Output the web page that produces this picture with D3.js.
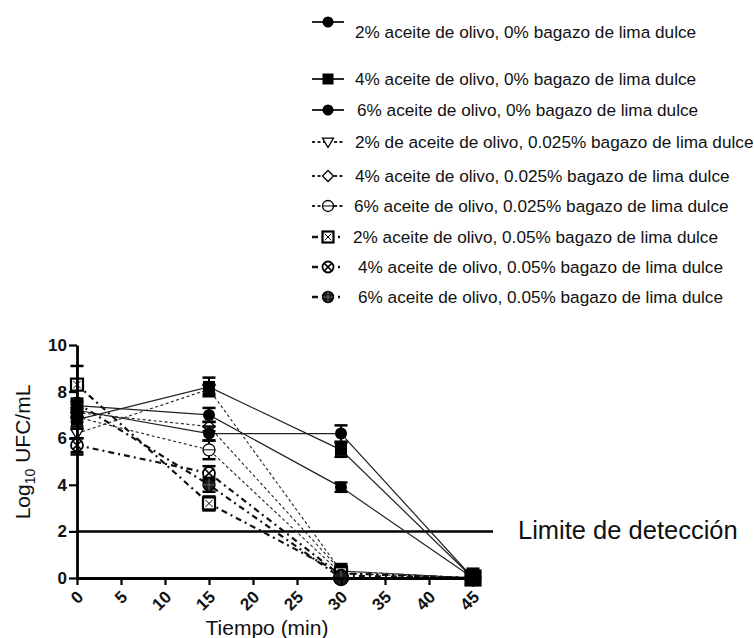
<!DOCTYPE html>
<html><head><meta charset="utf-8">
<script src="https://cdn.jsdelivr.net/npm/d3@7"></script>
<style>body{margin:0;background:#fff}svg{display:block}text{font-family:"Liberation Sans",Arial,sans-serif}</style>
</head><body><svg id="c" width="754" height="638"></svg>
<script>
const times = [0, 15, 30, 45];
const seriesNames = [
  "2% aceite de olivo, 0% bagazo de lima dulce",
  "4% aceite de olivo, 0% bagazo de lima dulce",
  "6% aceite de olivo, 0% bagazo de lima dulce",
  "2% de aceite de olivo, 0.025% bagazo de lima dulce",
  "4% aceite de olivo, 0.025% bagazo de lima dulce",
  "6% aceite de olivo, 0.025%  bagazo de lima dulce",
  "2% aceite de olivo, 0.05% bagazo de lima dulce",
  "4% aceite de olivo, 0.05% bagazo de lima dulce",
  "6% aceite de olivo, 0.05% bagazo de lima dulce"
];
const s1 = [7.2, 6.2, 6.2, 0];
const s2 = [6.8, 8.2, 5.5, 0];
const s3 = [7.4, 7.0, 3.9, 0];
const s4 = [6.2, 8.1, 0.3, 0];
const s5 = [7.1, 6.5, 0.3, 0];
const s6 = [6.9, 5.5, 0.2, 0];
const s7 = [8.3, 3.2, 0.2, 0];
const s8 = [5.7, 4.5, 0.1, 0];
const s9 = [7.5, 4.0, 0.0, 0];
const e1 = [1.9, 0.3, 0.35, 0.1];
const e2 = [0.3, 0.4, 0.3, 0.4];
const e3 = [0.2, 0.3, 0.2, 0.1];
const e4 = [0.2, 0.2, 0.3, 0];
const e5 = [0.2, 0.2, 0.2, 0];
const e6 = [0.2, 0.4, 0.3, 0];
const e7 = [0.2, 0.3, 0.2, 0];
const e8 = [0.3, 0.3, 0.1, 0];
const e9 = [0.2, 0.3, 0.1, 0];
const xTicks = [0, 5, 10, 15, 20, 25, 30, 35, 40, 45];
const yTicks = [0, 2, 4, 6, 8, 10];
const limitValue = 2;
const limitLabel = "Limite de detección";

const values = [s1, s2, s3, s4, s5, s6, s7, s8, s9];
const errors = [e1, e2, e3, e4, e5, e6, e7, e8, e9];
const markers = ["circle","square","circle","triDown","diamond","ocircle","boxX","circX","circHatch"];
const styles = ["solid","solid","solid","dash","dash","dash","dashdot","dashdot","dashdot"];
const drawOrder = [3, 4, 5, 6, 7, 8, 1, 0, 2];

const svg = d3.select("#c");
const x = d3.scaleLinear().domain([0, 45]).range([77, 473]);
const y = d3.scaleLinear().domain([0, 10]).range([578, 345]);

function lineStyle(sel, st, w) {
  const k = w || 1;
  if (st === "solid") sel.attr("stroke", "#222").attr("stroke-width", 1.2 * k);
  else if (st === "dash") sel.attr("stroke", "#222").attr("stroke-width", 1.1 * k).attr("stroke-dasharray", "3,2.5");
  else sel.attr("stroke", "#111").attr("stroke-width", 2.2 * (k > 1 ? 1.2 : 1)).attr("stroke-dasharray", "6,4,2,4");
}

function drawMarker(g, type, cx, cy, s) {
  const r = s / 2;
  if (type === "circle") g.append("circle").attr("cx", cx).attr("cy", cy).attr("r", r).attr("fill", "#000");
  else if (type === "square") g.append("rect").attr("x", cx - r).attr("y", cy - r).attr("width", s).attr("height", s).attr("fill", "#000");
  else if (type === "triDown") g.append("path").attr("d", `M${cx - r},${cy - r * 0.7}L${cx + r},${cy - r * 0.7}L${cx},${cy + r}Z`).attr("fill", "#fff").attr("stroke", "#000").attr("stroke-width", 1.3);
  else if (type === "diamond") g.append("path").attr("d", `M${cx},${cy - r}L${cx + r},${cy}L${cx},${cy + r}L${cx - r},${cy}Z`).attr("fill", "#fff").attr("stroke", "#000").attr("stroke-width", 1.3);
  else if (type === "ocircle") {
    g.append("circle").attr("cx", cx).attr("cy", cy).attr("r", r).attr("fill", "#fff").attr("stroke", "#000").attr("stroke-width", 1.3);
    g.append("line").attr("x1", cx - r).attr("x2", cx + r).attr("y1", cy).attr("y2", cy).attr("stroke", "#000").attr("stroke-width", 1);
  } else if (type === "boxX") {
    g.append("rect").attr("x", cx - r).attr("y", cy - r).attr("width", s).attr("height", s).attr("fill", "#fff").attr("stroke", "#000").attr("stroke-width", 2.2);
    g.append("path").attr("d", `M${cx - r * 0.6},${cy - r * 0.6}L${cx + r * 0.6},${cy + r * 0.6}M${cx + r * 0.6},${cy - r * 0.6}L${cx - r * 0.6},${cy + r * 0.6}`).attr("stroke", "#000").attr("stroke-width", 1);
  } else if (type === "circX") {
    g.append("circle").attr("cx", cx).attr("cy", cy).attr("r", r).attr("fill", "#fff").attr("stroke", "#000").attr("stroke-width", 1.8);
    const d = r * 0.7;
    g.append("path").attr("d", `M${cx - d},${cy - d}L${cx + d},${cy + d}M${cx + d},${cy - d}L${cx - d},${cy + d}`).attr("stroke", "#000").attr("stroke-width", 1.6);
  } else if (type === "circHatch") {
    g.append("circle").attr("cx", cx).attr("cy", cy).attr("r", r).attr("fill", "#1a1a1a").attr("stroke", "#000").attr("stroke-width", 1.4);
    g.append("path").attr("d", `M${cx - r},${cy}L${cx + r},${cy}M${cx},${cy - r}L${cx},${cy + r}`).attr("stroke", "#777").attr("stroke-width", 0.8);
  }
}

// limit line
svg.append("line").attr("x1", x(0)).attr("x2", 493).attr("y1", y(limitValue)).attr("y2", y(limitValue))
  .attr("stroke", "#000").attr("stroke-width", 2.5);
svg.append("text").attr("x", 518).attr("y", y(limitValue) + 8).attr("font-size", 25.5).attr("fill", "#111").text(limitLabel);

// series
const lineGen = d3.line().x(d => x(d[0])).y(d => y(d[1]));
values.forEach((vals, i) => {
  const pts = times.map((t, j) => [t, vals[j]]);
  lineStyle(svg.append("path").attr("d", lineGen(pts)).attr("fill", "none"), styles[i]);
});
drawOrder.forEach(i => {
  const vals = values[i];
  const g = svg.append("g");
  times.forEach((t, j) => {
    const er = errors[i][j];
    if (er > 0) {
      const cx = x(t), top = y(vals[j] + er), bot = y(Math.max(0, vals[j] - er));
      g.append("line").attr("x1", cx).attr("x2", cx).attr("y1", top).attr("y2", bot).attr("stroke", "#000").attr("stroke-width", 2);
      g.append("line").attr("x1", cx - 6.5).attr("x2", cx + 6.5).attr("y1", top).attr("y2", top).attr("stroke", "#000").attr("stroke-width", 2.5);
      g.append("line").attr("x1", cx - 6.5).attr("x2", cx + 6.5).attr("y1", bot).attr("y2", bot).attr("stroke", "#000").attr("stroke-width", 2.5);
    }
    drawMarker(g, markers[i], x(t), y(vals[j]), t === 45 || (t === 30 && vals[j] === 0) ? 15 : 12);
  });
});

// axes
const ax = svg.append("g").attr("transform", `translate(0,${y(0)})`)
  .call(d3.axisBottom(x).tickValues(xTicks).tickSize(7).tickSizeOuter(0).tickFormat(d3.format("d")));
ax.select(".domain").attr("stroke-width", 2.8).attr("stroke", "#000");
ax.selectAll(".tick line").attr("stroke-width", 2.2).attr("stroke", "#000");
ax.selectAll(".tick text").attr("font-size", 17).attr("font-weight", "bold").attr("fill", "#111")
  .attr("text-anchor", "end").attr("dy", null).attr("y", 0)
  .attr("transform", "translate(7,20) rotate(-45)");
const ay = svg.append("g").attr("transform", `translate(${x(0)},0)`)
  .call(d3.axisLeft(y).tickValues(yTicks).tickSize(8).tickSizeOuter(0).tickFormat(d3.format("d")));
ay.select(".domain").attr("stroke-width", 2.8).attr("stroke", "#000");
ay.selectAll(".tick line").attr("stroke-width", 2.2).attr("stroke", "#000");
ay.selectAll(".tick text").attr("font-size", 17).attr("font-weight", "bold").attr("fill", "#111").attr("x", -10);

// axis titles
svg.append("text").attr("x", 267).attr("y", 635).attr("text-anchor", "middle").attr("font-size", 21).attr("fill", "#111").text("Tiempo (min)");
const yl = svg.append("text").attr("transform", "translate(30,452) rotate(-90)").attr("text-anchor", "middle").attr("font-size", 21).attr("fill", "#111");
yl.append("tspan").text("Log");
yl.append("tspan").attr("font-size", 14).attr("dy", 5).text("10");
yl.append("tspan").attr("dy", -5).text(" UFC/mL");

// legend
const legY = [22, 79, 110, 142, 176, 206, 237, 267, 297];
const legTextY = [32, 79, 110, 142, 176, 206, 237, 267, 297];
const legTextX = [355, 355, 357, 355, 355, 354, 353, 358, 358];
seriesNames.forEach((name, i) => {
  const g = svg.append("g");
  lineStyle(g.append("line").attr("x1", 312).attr("x2", 344).attr("y1", legY[i]).attr("y2", legY[i]), styles[i], 1.6);
  drawMarker(g, markers[i], 328, legY[i], 11);
  g.append("text").attr("x", legTextX[i]).attr("y", legTextY[i] + 6).attr("font-size", 17.2).attr("fill", "#111").text(name);
});
</script></body></html>
